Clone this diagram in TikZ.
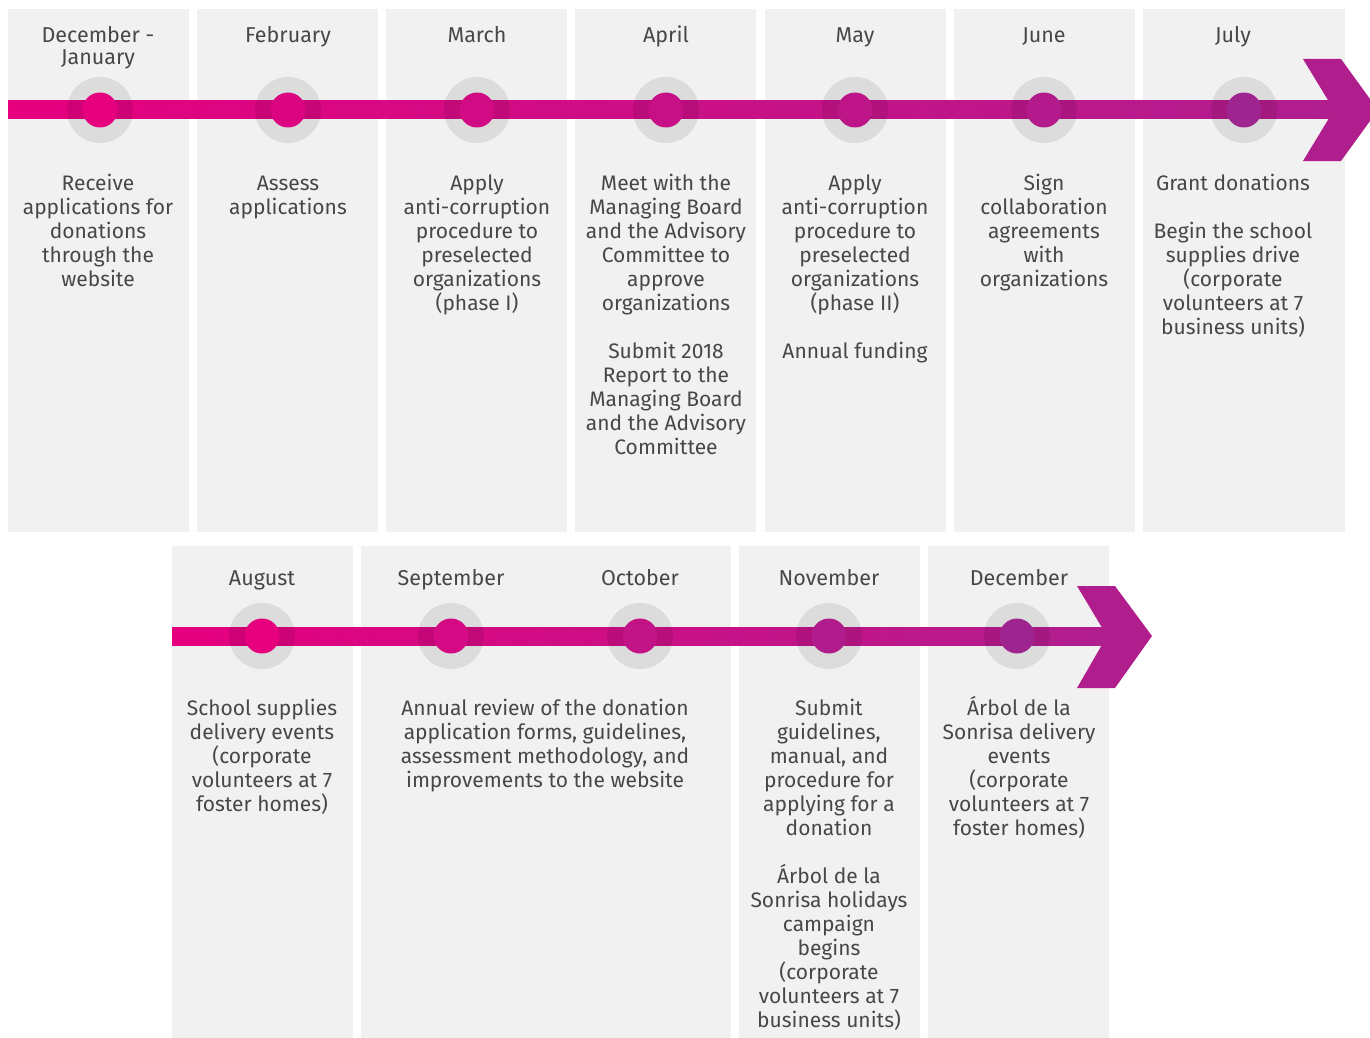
\documentclass[tikz,border=0pt]{standalone}
\usepackage{fontspec}
\setmainfont{Fira Sans}
\definecolor{panelgray}{HTML}{F1F1F1}
\definecolor{txt}{HTML}{474747}
\definecolor{lineA}{HTML}{E6007E}
\definecolor{lineB}{HTML}{B01E8E}
\definecolor{dotA}{HTML}{E6007E}
\definecolor{dotB}{HTML}{9E2590}
\newcommand\tstr{\rule{0pt}{20pt}}
\begin{document}
\begin{tikzpicture}[x=1pt,y=-1pt,
  panel/.style={fill=panelgray,draw=none},
  halo/.style={fill=black,fill opacity=0.085,draw=none},
  month/.style={font=\fontsize{21.5}{22}\selectfont,text=txt,align=center,anchor=north,inner sep=0pt},
  body/.style={font=\fontsize{21}{24}\selectfont,text=txt,align=center,anchor=north,inner sep=0pt},
]
\useasboundingbox (0,0) rectangle (1370,1038);
% panels top
\fill[panel] (8,9) rectangle (189,532);
\fill[panel] (197,9) rectangle (378,532);
\fill[panel] (386,9) rectangle (567,532);
\fill[panel] (575,9) rectangle (756,532);
\fill[panel] (765,9) rectangle (946,532);
\fill[panel] (954,9) rectangle (1135,532);
\fill[panel] (1143,9) rectangle (1345,532);
% panels bottom
\fill[panel] (172,546) rectangle (353,1038);
\fill[panel] (361,546) rectangle (731,1038);
\fill[panel] (739,546) rectangle (920,1038);
\fill[panel] (928,546) rectangle (1109,1038);
% top timeline
\shade[left color=lineA,right color=lineB] (8,101) rectangle (1336,119);
\fill[lineB] (1303,59) -- (1341,59) -- (1378,110) -- (1341,161) -- (1303,161) -- (1334,110) -- cycle;
% bottom timeline
\shade[left color=lineA,right color=lineB] (172,627) rectangle (1108,645);
\fill[lineB] (1077,586) -- (1115,586) -- (1152,636) -- (1115,688) -- (1077,688) -- (1107,636) -- cycle;
% dots top
\foreach \x/\t [count=\i] in {100/0,288/14,477/29,666/43,855/57,1044/71,1244/100}{
  \colorlet{dc}{dotB!\t!dotA}
  \fill[halo] (\x,110) circle (33pt);
  \fill[dc] (\x,110) circle (17.5pt);
  \coordinate (t\i) at (\x,110);
}
\foreach \x/\t [count=\i] in {262/0,451/25,640/50,829/75,1017/100}{
  \colorlet{dc}{dotB!\t!dotA}
  \fill[halo] (\x,636) circle (33pt);
  \fill[dc] (\x,636) circle (17.5pt);
  \coordinate (b\i) at (\x,636);
}
% month labels top
\node[month] (m1) at (98,22) {\tstr December -\\January};
\node[month] (m2) at (288,22) {\tstr February};
\node[month] (m3) at (477,22) {\tstr March};
\node[month] (m4) at (666,22) {\tstr April};
\node[month] (m5) at (855,22) {\tstr May};
\node[month] (m6) at (1044,22) {\tstr June};
\node[month] (m7) at (1233,22) {\tstr July};
% month labels bottom
\node[month] (m8) at (262,565) {\tstr August};
\node[month] (m9) at (451,565) {\tstr September};
\node[month] (m10) at (640,565) {\tstr October};
\node[month] (m11) at (829,565) {\tstr November};
\node[month] (m12) at (1019,565) {\tstr December};
% body top
\node[body] (d1) at (98,170) {\tstr Receive\\applications for\\donations\\through the\\website};
\node[body] (d2) at (288,170) {\tstr Assess\\applications};
\node[body] (d3) at (477,170) {\tstr Apply\\anti-corruption\\procedure to\\preselected\\organizations\\(phase I)};
\node[body] (d4) at (666,170) {\tstr Meet with the\\Managing Board\\and the Advisory\\Committee to\\approve\\organizations\\[24pt]Submit 2018\\Report to the\\Managing Board\\and the Advisory\\Committee};
\node[body] (d5) at (855,170) {\tstr Apply\\anti-corruption\\procedure to\\preselected\\organizations\\(phase II)\\[24pt]Annual funding};
\node[body] (d6) at (1044,170) {\tstr Sign\\collaboration\\agreements\\with\\organizations};
\node[body] (d7) at (1233,170) {\tstr Grant donations\\[24pt]Begin the school\\supplies drive\\(corporate\\volunteers at 7\\business units)};
% body bottom
\node[body] (d8) at (262,695) {\tstr School supplies\\delivery events\\(corporate\\volunteers at 7\\foster homes)};
\node[body] (d9) at (545,695) {\tstr Annual review of the donation\\application forms, guidelines,\\assessment methodology, and\\improvements to the website};
\node[body] (d10) at (829,695) {\tstr Submit\\guidelines,\\manual, and\\procedure for\\applying for a\\donation\\[24pt]Árbol de la\\Sonrisa holidays\\campaign\\begins\\(corporate\\volunteers at 7\\business units)};
\node[body] (d11) at (1019,695) {\tstr Árbol de la\\Sonrisa delivery\\events\\(corporate\\volunteers at 7\\foster homes)};
\end{tikzpicture}
\end{document}
